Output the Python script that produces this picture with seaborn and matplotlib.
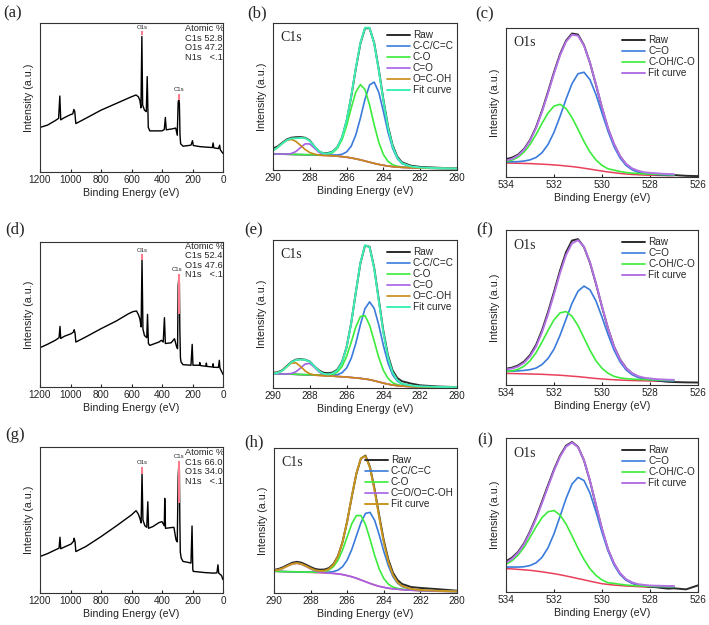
import matplotlib
matplotlib.use("Agg")
import matplotlib.pyplot as plt
import seaborn as sns
import numpy as np

sns.set_style("ticks")
plt.rcParams["font.family"] = ["Liberation Sans", "DejaVu Sans"]
SERIF = ["Liberation Serif", "DejaVu Serif"]

# ---------------- survey spectra (a), (d), (g) ----------------
# intensities in % of the panel height
surv_a_ev = [1200, 1150, 1100, 1078, 1070, 1064, 1040, 1000, 985, 978, 972, 965, 900, 800, 700, 600,
             570, 555, 545, 538, 532, 527, 515, 503, 497, 490, 480, 400, 385, 378, 372, 330, 310, 300,
             294, 290, 286, 282, 278, 262, 210, 200, 195, 150, 70, 65, 60, 30, 22, 18, 0]
surv_a_int = [29.9, 31.5, 34.5, 36.0, 51.0, 35.0, 36.5, 38.5, 39.0, 42.0, 40.5, 32.5, 36.0, 41.5, 46.0, 50.5,
              51.7, 50.5, 48.0, 43.0, 91.0, 45.0, 41.5, 40.5, 64.0, 30.0, 27.6, 27.6, 28.5, 36.6, 28.3, 29.0, 29.5, 24.7,
              47.0, 48.3, 46.0, 25.0, 19.0, 17.3, 18.0, 21.0, 17.8, 17.0, 16.4, 19.5, 16.2, 15.7, 18.0, 15.0, 12.4]
surv_a_marks = [(532, 92.0, 94.5), (288, 48.3, 52.4)]
surv_a_tags = [(532, 95.0, "O1s"), (288, 53.5, "C1s")]
surv_a_atomic = ["Atomic %", "C1s 52.8", "O1s 47.2", "N1s   <.1"]

surv_d_ev = [1200, 1150, 1100, 1075, 1069, 1064, 1040, 995, 980, 976, 970, 965, 900, 800, 700, 620,
             590, 567, 555, 545, 537, 531, 525, 515, 500, 495, 489, 480, 420, 404, 392, 384, 378, 340,
             318, 305, 298, 294, 290, 286, 283, 279, 275, 262, 210, 202, 197, 155, 152, 149, 112, 109,
             106, 68, 65, 62, 30, 24, 20, 0]
surv_d_int = [27.1, 29.5, 32.2, 34.0, 41.8, 33.5, 35.0, 36.8, 38.0, 39.5, 37.0, 31.0, 34.5, 40.2, 45.5, 50.5,
              52.0, 52.4, 50.0, 47.0, 41.4, 87.8, 40.0, 35.5, 34.0, 50.1, 30.0, 28.7, 31.0, 32.2, 31.0, 47.8, 30.0, 30.5,
              33.3, 28.0, 26.4, 70.0, 74.7, 72.0, 40.0, 20.0, 17.2, 15.4, 15.0, 29.4, 15.0, 15.0, 16.8, 14.8, 14.3, 16.5,
              14.2, 13.8, 16.0, 13.6, 13.5, 18.4, 13.0, 8.7]
surv_d_marks = [(531, 87.8, 91.5), (287, 50.6, 78.2)]
surv_d_tags = [(531, 92.5, "O1s"), (300, 79.0, "C1s")]
surv_d_atomic = ["Atomic %", "C1s 52.4", "O1s 47.6", "N1s   <.1"]

surv_g_ev = [1200, 1150, 1100, 1075, 1069, 1064, 1040, 995, 980, 976, 970, 965, 900, 800, 700, 600,
             570, 555, 545, 537, 531, 525, 512, 500, 493, 488, 460, 420, 400, 385, 382, 377, 340, 322,
             308, 300, 294, 290, 286, 283, 280, 274, 262, 230, 210, 203, 198, 195, 120, 60, 40, 33, 28, 10, 0]
surv_g_int = [25.0, 27.0, 29.5, 30.7, 38.2, 30.3, 31.5, 33.6, 35.5, 37.5, 35.0, 28.4, 31.8, 38.6, 45.9, 53.5,
              56.4, 54.0, 51.1, 48.0, 81.8, 50.0, 46.0, 45.0, 62.5, 44.3, 45.5, 48.2, 48.9, 46.0, 64.8, 44.3, 44.8, 45.0,
              36.4, 35.0, 80.0, 87.5, 84.0, 50.0, 28.0, 23.9, 21.6, 21.0, 20.5, 45.9, 16.0, 14.8, 14.0, 13.6, 13.8, 19.3,
              13.6, 12.0, 9.1]
surv_g_marks = [(531, 81.8, 86.4), (287, 61.4, 90.5)]
surv_g_tags = [(531, 87.5, "O1s"), (289, 91.5, "C1s")]
surv_g_atomic = ["Atomic %", "C1s 66.0", "O1s 34.0", "N1s   <.1"]

# ---------------- C1s high resolution (b), (e), (h) ----------------
c1s_ev = [290.0, 289.75, 289.5, 289.25, 289.0, 288.75, 288.5, 288.25, 288.0, 287.75, 287.5, 287.25, 287.0,
          286.75, 286.5, 286.25, 286.0, 285.75, 285.5, 285.25, 285.0, 284.75, 284.5, 284.25, 284.0, 283.75,
          283.5, 283.25, 283.0, 282.5, 282.0, 281.0, 280.0]

b_bg = [11.0, 10.9, 10.8, 10.7, 10.6, 10.5, 10.4, 10.3, 10.2, 10.1, 10.0, 9.9, 9.8, 9.6, 9.4, 9.1, 8.7, 8.2, 7.6,
        6.9, 6.1, 5.3, 4.5, 3.8, 3.2, 2.7, 2.3, 2.0, 1.8, 1.5, 1.3, 1.1, 1.0]
b_raw = [14.6, 16.0, 18.5, 20.8, 22.0, 22.3, 22.4, 21.9, 20.1, 16.0, 12.7, 11.3, 11.6, 12.6, 15.6, 22.0, 33.5, 49.8,
         68.9, 86.0, 96.4, 96.5, 86.4, 68.3, 47.8, 29.8, 16.9, 9.2, 5.3, 2.9, 2.1, 1.5, 1.1]
b_cc = [11.0, 10.9, 10.8, 10.7, 10.6, 10.5, 10.5, 10.4, 10.4, 10.3, 10.3, 10.2, 10.2, 10.2, 10.2, 10.7, 12.3, 16.2,
        23.9, 35.3, 48.2, 57.9, 59.8, 52.8, 39.8, 25.8, 14.8, 7.9, 4.4, 2.2, 1.6, 1.2, 1.0]
b_co = [11.0, 10.9, 10.8, 10.7, 10.7, 10.6, 10.5, 10.4, 10.4, 10.4, 10.3, 10.4, 10.8, 11.8, 14.7, 20.5, 30.1, 42.1,
        53.0, 58.1, 54.7, 44.2, 30.7, 18.8, 10.5, 5.9, 3.6, 2.6, 2.1, 1.7, 1.4, 1.1, 1.0]
b_cdo = [11.0, 10.9, 10.8, 10.8, 11.2, 12.6, 15.3, 17.8, 17.7, 14.9, 12.0, 10.4, 9.9, 9.6, 9.4, 9.1, 8.7, 8.2, 7.6,
         6.9, 6.1, 5.3, 4.5, 3.8, 3.2, 2.7, 2.3, 2.0, 1.8, 1.5, 1.3, 1.1, 1.0]
b_ocoh = [13.2, 15.3, 18.0, 20.2, 20.8, 19.4, 16.7, 13.9, 11.9, 10.8, 10.2, 9.9, 9.8, 9.6, 9.4, 9.1, 8.7, 8.2, 7.6,
          6.9, 6.1, 5.3, 4.5, 3.8, 3.2, 2.7, 2.3, 2.0, 1.8, 1.5, 1.3, 1.1, 1.0]

e_bg = [9.7, 9.6, 9.5, 9.4, 9.3, 9.2, 9.0, 8.9, 8.8, 8.6, 8.5, 8.3, 8.1, 8.0, 7.8, 7.6, 7.4, 7.1, 6.8, 6.5, 6.1,
        5.6, 4.9, 4.1, 3.3, 2.6, 2.0, 1.6, 1.3, 0.9, 0.7, 0.5, 0.5]
e_raw = [10.3, 10.6, 12.0, 14.8, 17.6, 19.2, 19.5, 19.1, 17.9, 14.6, 11.9, 10.3, 10.0, 10.5, 12.5, 17.6, 27.6, 43.9,
         64.5, 84.3, 96.2, 95.4, 81.2, 59.6, 38.3, 22.0, 11.9, 6.8, 4.6, 3.0, 1.8, 1.0, 0.6]
e_cc = [9.7, 9.6, 9.5, 9.4, 9.3, 9.2, 9.1, 9.0, 9.0, 8.8, 8.8, 8.6, 8.5, 8.7, 9.0, 10.3, 13.5, 20.0, 30.2, 42.8,
        53.7, 58.2, 53.8, 42.5, 28.7, 16.9, 8.9, 4.7, 2.7, 1.5, 1.0, 0.6, 0.5]
e_co = [9.7, 9.6, 9.5, 9.4, 9.4, 9.3, 9.1, 9.0, 9.0, 8.8, 8.8, 8.6, 8.7, 9.2, 10.8, 14.5, 21.3, 30.9, 41.2, 48.3,
        48.9, 42.5, 31.7, 20.5, 11.9, 6.5, 3.6, 2.3, 1.6, 1.1, 0.8, 0.6, 0.5]
e_cdo = [9.7, 9.6, 9.5, 9.5, 9.8, 11.0, 13.5, 16.2, 16.6, 14.0, 10.9, 9.0, 8.2, 8.0, 7.8, 7.6, 7.4, 7.1, 6.8, 6.5,
         6.1, 5.6, 4.9, 4.1, 3.3, 2.6, 2.0, 1.6, 1.3, 0.9, 0.7, 0.5, 0.5]
e_ocoh = [9.8, 10.2, 11.6, 14.3, 16.8, 17.0, 14.5, 11.5, 9.6, 8.8, 8.5, 8.3, 8.1, 8.0, 7.8, 7.6, 7.4, 7.1, 6.8,
          6.5, 6.1, 5.6, 4.9, 4.1, 3.3, 2.6, 2.0, 1.6, 1.3, 0.9, 0.7, 0.5, 0.5]

h_bg = [15.0, 14.9, 14.8, 14.7, 14.6, 14.5, 14.4, 14.3, 14.2, 14.1, 14.0, 13.9, 13.7, 13.5, 13.2, 12.7, 12.0, 11.2,
        10.2, 9.0, 7.8, 6.6, 5.5, 4.6, 3.9, 3.3, 2.9, 2.6, 2.3, 1.9, 1.6, 1.2, 1.0]
h_raw = [15.9, 16.6, 17.8, 19.4, 20.9, 21.5, 20.9, 19.5, 17.9, 16.6, 16.1, 16.2, 17.2, 20.0, 25.6, 35.4, 49.5, 66.3,
         82.2, 92.7, 94.8, 86.7, 71.4, 53.2, 36.2, 23.0, 14.0, 8.9, 6.2, 4.1, 3.5, 2.6, 1.6]
h_cc = [15.0, 14.9, 14.8, 14.7, 14.6, 14.5, 14.5, 14.4, 14.4, 14.3, 14.3, 14.3, 14.4, 14.8, 15.8, 18.2, 22.8, 30.0,
        39.3, 48.5, 54.9, 55.6, 50.1, 40.1, 28.7, 18.7, 11.3, 6.8, 4.4, 2.6, 2.0, 1.4, 1.1]
h_co = [15.0, 14.9, 14.8, 14.7, 14.7, 14.6, 14.5, 14.5, 14.4, 14.4, 14.5, 14.8, 15.8, 18.2, 22.7, 29.8, 38.8, 47.7,
        53.4, 53.4, 47.3, 37.0, 25.9, 16.5, 10.0, 6.1, 4.1, 3.2, 2.6, 2.1, 1.7, 1.3, 1.0]
h_coo = [15.4, 16.0, 17.1, 18.7, 20.0, 20.5, 19.8, 18.3, 16.6, 15.2, 14.4, 14.0, 13.7, 13.5, 13.2, 12.7, 12.0, 11.2,
         10.2, 9.0, 7.8, 6.6, 5.5, 4.6, 3.9, 3.3, 2.9, 2.6, 2.3, 1.9, 1.6, 1.2, 1.0]

# ---------------- O1s high resolution (c), (f), (i) ----------------
o1s_ev = [534.0, 533.75, 533.5, 533.25, 533.0, 532.75, 532.5, 532.25, 532.0, 531.75, 531.5, 531.25, 531.0,
          530.75, 530.5, 530.25, 530.0, 529.75, 529.5, 529.25, 529.0, 528.75, 528.5, 528.25, 528.0, 527.75,
          527.5, 527.25, 527.0]
o1s_raw_ev = [534.0, 533.75, 533.5, 533.25, 533.0, 532.75, 532.5, 532.25, 532.0, 531.75, 531.5, 531.25, 531.0,
              530.75, 530.5, 530.25, 530.0, 529.75, 529.5, 529.25, 529.0, 528.75, 528.5, 528.25, 528.0, 527.75,
              527.5, 527.25, 527.0, 526.5, 526.0]

c_bg = [9.4, 9.3, 9.2, 9.1, 9.0, 8.8, 8.6, 8.4, 8.1, 7.8, 7.4, 7.0, 6.5, 5.9, 5.3, 4.6, 4.0, 3.4, 2.9, 2.4, 2.0,
        1.7, 1.5, 1.3, 1.2, 1.1, 1.0, 1.0, 0.9]
c_raw = [12.0, 13.0, 15.0, 18.8, 24.8, 33.4, 44.5, 57.2, 70.4, 82.4, 91.5, 96.3, 95.6, 88.5, 76.6, 61.8, 46.4,
         32.6, 22.0, 14.0, 8.6, 5.5, 3.8, 2.7, 2.2, 1.8, 1.4, 1.2, 1.3, 0.8, 0.6]
c_cdo = [10.1, 10.2, 10.3, 10.7, 11.5, 13.1, 16.3, 21.8, 30.0, 40.6, 52.2, 62.6, 69.3, 70.3, 65.3, 55.3, 42.9,
         30.7, 20.4, 12.8, 7.8, 4.9, 3.3, 2.4, 2.0, 1.7, 1.5, 1.4, 1.3]
c_coh = [10.3, 11.3, 13.3, 16.7, 21.8, 28.5, 36.0, 42.9, 47.6, 48.8, 46.0, 39.9, 32.0, 23.8, 16.7, 11.4, 7.8, 5.5,
         4.6, 3.7, 3.0, 2.6, 2.4, 2.1, 2.0, 1.9, 1.7, 1.6, 1.5]

f_bg = [7.5, 7.4, 7.3, 7.2, 7.1, 7.0, 6.9, 6.7, 6.5, 6.3, 6.0, 5.7, 5.4, 5.0, 4.6, 4.2, 3.9, 3.6, 3.4, 3.2, 3.0,
        2.9, 2.8, 2.7, 2.6, 2.5, 2.4, 2.3, 2.2]
f_raw = [10.5, 11.2, 12.6, 15.1, 19.3, 25.8, 35.3, 47.0, 60.1, 73.8, 85.6, 93.2, 94.1, 89.0, 78.8, 65.2, 50.4,
         36.5, 24.9, 16.6, 11.0, 7.5, 5.4, 4.2, 3.5, 3.0, 2.5, 2.1, 1.9, 1.7, 1.6]
f_cdo = [8.8, 8.9, 9.1, 9.4, 9.9, 10.9, 13.2, 17.1, 23.1, 32.0, 42.4, 52.7, 60.5, 63.8, 61.4, 54.2, 43.8, 32.6,
         22.6, 15.0, 9.8, 6.7, 4.9, 3.9, 3.4, 3.0, 2.9, 2.7, 2.6]
f_coh = [8.7, 9.1, 10.1, 12.1, 15.6, 20.8, 27.7, 35.2, 42.0, 46.5, 47.4, 44.4, 38.3, 30.4, 22.4, 15.6, 10.8, 7.6,
         5.6, 4.6, 4.1, 3.8, 3.6, 3.5, 3.4, 3.3, 3.1, 3.0, 2.9]

i_bg = [15.2, 15.0, 14.7, 14.4, 14.1, 13.6, 13.1, 12.5, 11.9, 11.2, 10.4, 9.6, 8.7, 7.9, 7.0, 6.2, 5.4, 4.9, 4.5,
        4.2, 3.9, 3.7, 3.5, 3.3, 3.2, 3.1, 3.1, 3.0, 3.0]
i_raw = [20.0, 22.3, 26.0, 31.6, 39.3, 48.4, 58.8, 69.3, 79.6, 88.5, 95.0, 97.4, 94.3, 85.5, 72.0, 56.2, 40.7,
         27.6, 18.4, 12.0, 8.0, 5.9, 4.6, 3.9, 3.4, 3.1, 2.6, 2.2, 2.4, 1.7, 4.3]
i_cdo = [16.2, 16.2, 16.2, 16.4, 17.2, 18.9, 22.5, 28.7, 37.8, 49.0, 60.6, 70.1, 74.4, 72.4, 64.2, 52.0, 38.7,
         26.8, 17.6, 11.4, 7.7, 5.8, 4.6, 4.1, 3.7, 3.6, 3.5, 3.4, 3.4]
i_coh = [18.0, 20.3, 23.9, 29.0, 35.5, 42.2, 48.3, 52.1, 52.9, 50.0, 44.2, 36.5, 28.4, 21.1, 15.1, 10.8, 7.8, 6.0,
         5.6, 5.0, 4.5, 4.2, 4.0, 3.8, 3.7, 3.6, 3.6, 3.5, 3.5]

RAW = "#2b2b2b"
BLUE = "#3a7bdc"
GREEN = "#3cec3c"
PURPLE = "#a660e6"
ORANGE = "#c88a16"
CYAN = "#3ef0b4"
GOLD = "#c9961e"
LAVENDER = "#b472e4"
RED = "#e8405a"
PINK = "#ff7a8a"

W, H = 709, 625
fig = plt.figure(figsize=(W / 100, H / 100), dpi=100)


def add_panel(l, t, r, b, letter, lx, ly):
    ax = fig.add_axes([l / W, 1 - b / H, (r - l) / W, (b - t) / H])
    fig.text(lx / W, 1 - ly / H, letter, family=SERIF, fontsize=12, va="center", ha="left")
    return ax


def finish(ax, xlim, xticks):
    ax.set_xlim(*xlim)
    ax.set_ylim(0, 100)
    ax.set_xticks(xticks)
    ax.set_yticks([])
    ax.tick_params(axis="x", direction="in", length=2, labelsize=7.2, pad=2.5, colors="#222222")
    ax.set_xlabel("Binding Energy (eV)", fontsize=7.7, labelpad=1.5, color="#222222")
    ax.set_ylabel("Intensity (a.u.)", fontsize=7.7, labelpad=4, color="#222222")
    for s in ax.spines.values():
        s.set_linewidth(0.8)
        s.set_color("#333333")


def survey(ax, ev, inten, marks, tags, atomic, top):
    sns.lineplot(x=ev, y=inten, color="black", lw=1.0, ax=ax, errorbar=None, estimator=None)
    for e, y0, y1 in marks:
        ax.vlines(e, y0, y1, color=PINK, lw=1.5)
    for e, y, s in tags:
        ax.text(e, y, s, fontsize=4.3, ha="center", va="bottom")
    for k, s in enumerate(atomic):
        ax.text(0.79, top - k * 0.065, s, transform=ax.transAxes, fontsize=6.7, va="center")
    finish(ax, (1200, 0), [1200, 1000, 800, 600, 400, 200, 0])


def fitted(ax, ev, raw_ev, raw, bg, comps, fit_color, core, xlim, xticks):
    sns.lineplot(x=ev, y=bg, color=RED, lw=1.1, ax=ax, errorbar=None, estimator=None)
    sns.lineplot(x=raw_ev, y=raw, color=RAW, lw=1.4, ax=ax, errorbar=None, estimator=None, label="Raw")
    base = np.array(bg)
    fit = base.copy()
    for name, vals, col in comps:
        sns.lineplot(x=ev, y=vals, color=col, lw=1.2, ax=ax, errorbar=None, estimator=None, label=name)
        fit = fit + (np.array(vals) - base)
    sns.lineplot(x=ev, y=fit, color=fit_color, lw=1.4, ax=ax, errorbar=None, estimator=None, label="Fit curve")
    ax.text(0.04, 0.9, core, transform=ax.transAxes, family=SERIF, fontsize=10, va="center")
    ax.legend(loc="upper right", bbox_to_anchor=(1.02, 1.0), frameon=False, fontsize=7.2,
              handlelength=2.3, handletextpad=0.3, labelspacing=0.1, borderaxespad=0.3)
    finish(ax, xlim, xticks)


C1S_TICKS = [290, 288, 286, 284, 282, 280]
O1S_TICKS = [534, 532, 530, 528, 526]

ax = add_panel(40, 23, 223, 172, "(a)", 3, 13)
survey(ax, surv_a_ev, surv_a_int, surv_a_marks, surv_a_tags, surv_a_atomic, 0.964)
ax = add_panel(273, 23, 457, 170, "(b)", 247, 13)
fitted(ax, c1s_ev, c1s_ev, b_raw, b_bg,
       [("C-C/C=C", b_cc, BLUE), ("C-O", b_co, GREEN), ("C=O", b_cdo, PURPLE), ("O=C-OH", b_ocoh, ORANGE)],
       CYAN, "C1s", (290, 280), C1S_TICKS)
ax = add_panel(506, 28, 698, 177, "(c)", 475, 14)
fitted(ax, o1s_ev, o1s_raw_ev, c_raw, c_bg, [("C=O", c_cdo, BLUE), ("C-OH/C-O", c_coh, GREEN)],
       LAVENDER, "O1s", (534, 526), O1S_TICKS)

ax = add_panel(40, 242, 223, 387, "(d)", 5, 229)
survey(ax, surv_d_ev, surv_d_int, surv_d_marks, surv_d_tags, surv_d_atomic, 0.970)
ax = add_panel(273, 240, 457, 388, "(e)", 244, 230)
fitted(ax, c1s_ev, c1s_ev, e_raw, e_bg,
       [("C-C/C=C", e_cc, BLUE), ("C-O", e_co, GREEN), ("C=O", e_cdo, PURPLE), ("O=C-OH", e_ocoh, ORANGE)],
       CYAN, "C1s", (290, 280), C1S_TICKS)
ax = add_panel(506, 230, 698, 385, "(f)", 476, 230)
fitted(ax, o1s_ev, o1s_raw_ev, f_raw, f_bg, [("C=O", f_cdo, BLUE), ("C-OH/C-O", f_coh, GREEN)],
       LAVENDER, "O1s", (534, 526), O1S_TICKS)

ax = add_panel(40, 447, 223, 593, "(g)", 5, 435)
survey(ax, surv_g_ev, surv_g_int, surv_g_marks, surv_g_tags, surv_g_atomic, 0.959)
ax = add_panel(274, 448, 457, 593, "(h)", 244, 442)
fitted(ax, c1s_ev, c1s_ev, h_raw, h_bg,
       [("C-C/C=C", h_cc, BLUE), ("C-O", h_co, GREEN), ("C=O/O=C-OH", h_coo, PURPLE)],
       GOLD, "C1s", (290, 280), C1S_TICKS)
ax = add_panel(506, 438, 698, 592, "(i)", 477, 440)
fitted(ax, o1s_ev, o1s_raw_ev, i_raw, i_bg, [("C=O", i_cdo, BLUE), ("C-OH/C-O", i_coh, GREEN)],
       LAVENDER, "O1s", (534, 526), O1S_TICKS)

fig.savefig("out.png", dpi=100)
